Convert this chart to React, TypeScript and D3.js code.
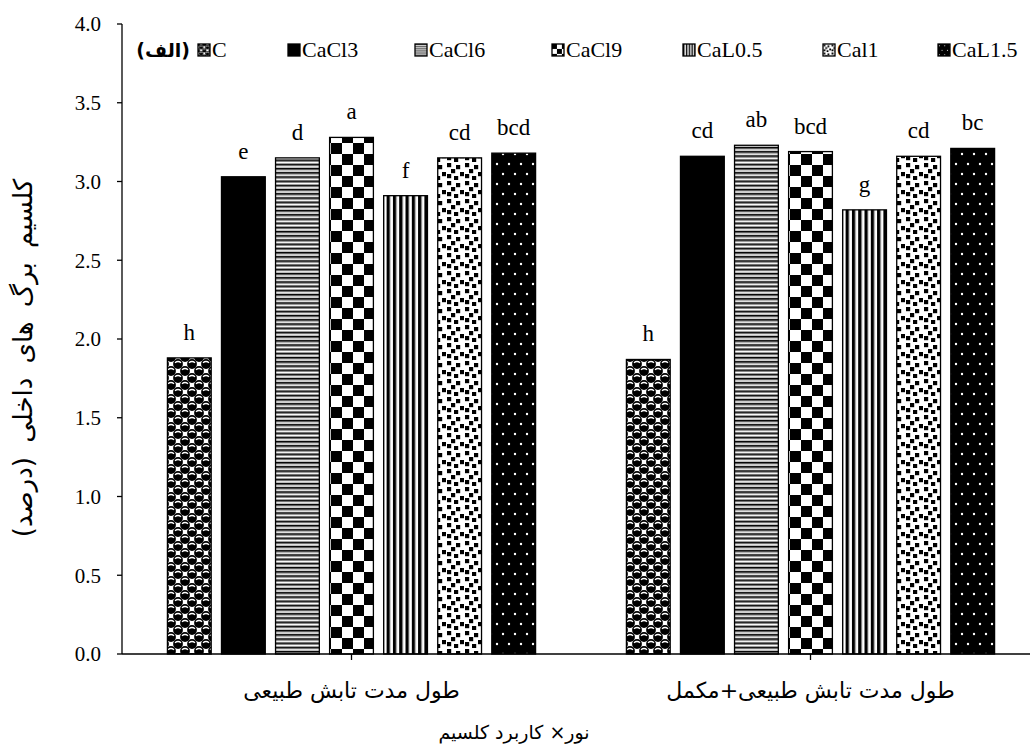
import React from 'react';
import * as d3 from 'd3';

// groups on the x axis (light regime)
const groups: string[] = ['طول مدت تابش طبیعی', 'طول مدت تابش طبیعی+مکمل'];
// calcium treatments (series)
const series: string[] = ['C', 'CaCl3', 'CaCl6', 'CaCl9', 'CaL0.5', 'Cal1', 'CaL1.5'];
// leaf calcium (%) per group, one value per series
const valuesNatural: number[] = [1.88, 3.03, 3.15, 3.28, 2.91, 3.15, 3.18];
const valuesSupp: number[] = [1.87, 3.16, 3.23, 3.19, 2.82, 3.16, 3.21];
// significance letters
const lettersNatural: string[] = ['h', 'e', 'd', 'a', 'f', 'cd', 'bcd'];
const lettersSupp: string[] = ['h', 'cd', 'ab', 'bcd', 'g', 'cd', 'bc'];
const yTicks: number[] = [0, 0.5, 1, 1.5, 2, 2.5, 3, 3.5, 4];

const W = 1030;
const H = 749;
const margin = { left: 122, top: 24, right: -10, bottom: 95 };
const serif = "'Times New Roman', 'Liberation Serif', serif";
const persian = "'DejaVu Sans', sans-serif";
const legendX = [198, 288, 415, 552, 683, 823, 938];

const patternIds = ['p-sphere', 'p-solid', 'p-hstripe', 'p-check', 'p-vstripe', 'p-squares', 'p-dots'];

// each pattern is drawn twice: full size for bars, shrunk for legend keys
const PatternSet: React.FC<{ suffix: string; scale: number }> = ({ suffix, scale }) => {
  const tf = scale === 1 ? undefined : `scale(${scale})`;
  return (
    <>
      <pattern id={`p-sphere${suffix}`} patternUnits="userSpaceOnUse" width={14} height={14} patternTransform={tf}>
        <rect width={14} height={14} fill="#fff" />
        {[[0, 0], [14, 0], [0, 14], [14, 14], [7, 7]].map(([cx, cy], i) => (
          <g key={i}>
            <circle cx={cx} cy={cy} r={4.9} fill="#000" />
            <path
              d={`M${cx - 3},${cy - 1.2} Q${cx},${cy - 3.8} ${cx + 3},${cy - 1.2}`}
              stroke="#fff"
              strokeWidth={1.3}
              fill="none"
            />
          </g>
        ))}
      </pattern>
      <pattern id={`p-solid${suffix}`} patternUnits="userSpaceOnUse" width={4} height={4} patternTransform={tf}>
        <rect width={4} height={4} fill="#000" />
      </pattern>
      <pattern id={`p-hstripe${suffix}`} patternUnits="userSpaceOnUse" width={4} height={4.2} patternTransform={tf}>
        <rect width={4} height={4.2} fill="#fff" />
        <rect y={0} width={4} height={1.5} fill="#000" />
        <rect y={1.5} width={4} height={0.9} fill="#888" />
        <rect y={3.5} width={4} height={0.7} fill="#aaa" />
      </pattern>
      <pattern id={`p-check${suffix}`} patternUnits="userSpaceOnUse" width={22} height={22} patternTransform={tf}>
        <rect width={22} height={22} fill="#fff" />
        <rect x={0} y={0} width={11} height={11} fill="#000" />
        <rect x={11} y={11} width={11} height={11} fill="#000" />
      </pattern>
      <pattern id={`p-vstripe${suffix}`} patternUnits="userSpaceOnUse" width={6.3} height={4} patternTransform={tf}>
        <rect width={6.3} height={4} fill="#fff" />
        <rect x={0} width={3.3} height={4} fill="#000" />
        <rect x={3.3} width={0.6} height={4} fill="#999" />
      </pattern>
      <pattern id={`p-squares${suffix}`} patternUnits="userSpaceOnUse" width={18} height={18} patternTransform={tf}>
        <rect width={18} height={18} fill="#fff" />
        {[[1, 1], [10, 3], [5, 7], [14, 10], [1, 12], [8, 14]].map(([x, y], i) => (
          <rect key={i} x={x} y={y} width={4.2} height={4.2} fill="#000" />
        ))}
      </pattern>
      <pattern id={`p-dots${suffix}`} patternUnits="userSpaceOnUse" width={12} height={20} patternTransform={tf}>
        <rect width={12} height={20} fill="#000" />
        <circle cx={3} cy={4} r={1.2} fill="#fff" />
        <circle cx={9} cy={14} r={1.2} fill="#fff" />
      </pattern>
    </>
  );
};

const App: React.FC = () => {
  const x0 = d3
    .scaleBand<string>()
    .domain(groups)
    .range([margin.left, W - margin.right])
    .padding(0);
  const x1 = d3
    .scaleBand<string>()
    .domain(series)
    .range([0, x0.bandwidth()])
    .paddingInner(0.19)
    .paddingOuter(0.84);
  const y = d3
    .scaleLinear()
    .domain([0, 4])
    .range([H - margin.bottom, margin.top]);

  const rows = groups.map((g, gi) => ({
    group: g,
    values: gi === 0 ? valuesNatural : valuesSupp,
    letters: gi === 0 ? lettersNatural : lettersSupp,
  }));

  const baseY = y(0);

  return (
    <svg
      width={W}
      height={H}
      style={{ position: 'absolute', left: 0, top: 0, background: '#fff' }}
    >
      <defs>
        <PatternSet suffix="" scale={1} />
        <PatternSet suffix="-k" scale={0.45} />
      </defs>

      {/* bars */}
      {rows.map((r) => (
        <g key={r.group} transform={`translate(${x0(r.group)},0)`}>
          {series.map((s, i) => (
            <g key={s}>
              <rect
                x={x1(s)}
                y={y(r.values[i])}
                width={x1.bandwidth()}
                height={baseY - y(r.values[i])}
                fill={`url(#${patternIds[i]})`}
                stroke="#000"
                strokeWidth={1.3}
              />
              <text
                x={(x1(s) as number) + x1.bandwidth() / 2}
                y={y(r.values[i]) - 18}
                textAnchor="middle"
                style={{ fontFamily: serif, fontSize: 23 }}
              >
                {r.letters[i]}
              </text>
            </g>
          ))}
        </g>
      ))}

      {/* y axis */}
      <line x1={margin.left} x2={margin.left} y1={y(4)} y2={baseY} stroke="#000" strokeWidth={1.3} />
      {yTicks.map((t) => (
        <g key={t}>
          <line x1={margin.left - 5} x2={margin.left} y1={y(t)} y2={y(t)} stroke="#000" strokeWidth={1.3} />
          <text
            x={margin.left - 21}
            y={y(t)}
            dy="0.35em"
            textAnchor="end"
            style={{ fontFamily: serif, fontSize: 21 }}
          >
            {t.toFixed(1)}
          </text>
        </g>
      ))}

      {/* x axis */}
      <line x1={margin.left} x2={W - margin.right} y1={baseY} y2={baseY} stroke="#000" strokeWidth={1.3} />
      {groups.map((g) => (
        <g key={g}>
          <line
            x1={(x0(g) as number) + x0.bandwidth() / 2}
            x2={(x0(g) as number) + x0.bandwidth() / 2}
            y1={baseY}
            y2={baseY + 6}
            stroke="#000"
            strokeWidth={1.3}
          />
          <text
            x={(x0(g) as number) + x0.bandwidth() / 2}
            y={baseY + 44}
            textAnchor="middle"
            direction="rtl"
            style={{ fontFamily: persian, fontSize: 22 }}
          >
            {g}
          </text>
        </g>
      ))}

      {/* axis titles */}
      <text
        x={514}
        y={H - 10}
        textAnchor="middle"
        direction="rtl"
        style={{ fontFamily: persian, fontSize: 19 }}
      >
        نور× کاربرد کلسیم
      </text>
      <text
        transform={`translate(32,${358}) rotate(-90)`}
        textAnchor="middle"
        direction="rtl"
        style={{ fontFamily: persian, fontSize: 26, wordSpacing: 6 }}
      >
        کلسیم برگ های داخلی (درصد)
      </text>

      {/* legend */}
      <text
        x={190}
        y={57}
        textAnchor="start"
        direction="rtl"
        style={{ fontFamily: persian, fontWeight: 'bold', fontSize: 19 }}
      >
        (الف)
      </text>
      {series.map((s, i) => (
        <g key={s} transform={`translate(${legendX[i]},44)`}>
          <rect width={12} height={12} fill={`url(#${patternIds[i]}-k)`} stroke="#000" strokeWidth={1.3} />
          <text x={14} y={13} style={{ fontFamily: serif, fontSize: 22 }}>
            {s}
          </text>
        </g>
      ))}
    </svg>
  );
};

export default App;
